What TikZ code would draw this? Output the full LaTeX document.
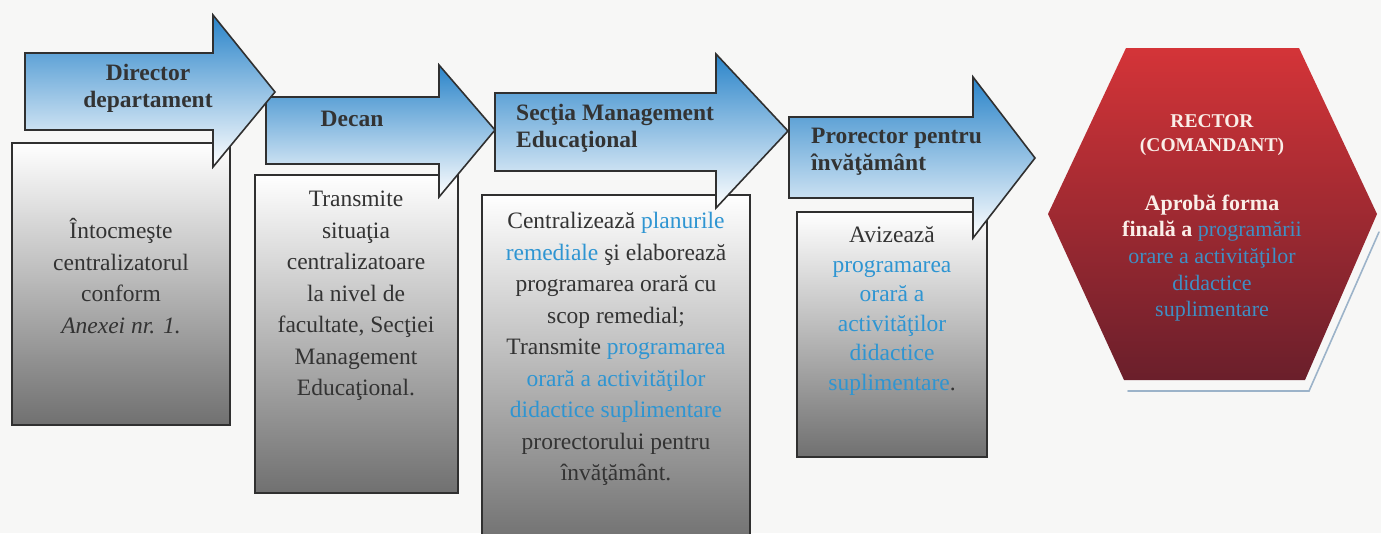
\documentclass[tikz,border=0pt]{standalone}
\usepackage{fontspec}
\setmainfont{Liberation Serif}
\definecolor{bgc}{HTML}{F7F7F6}
\definecolor{edgec}{HTML}{303030}
\definecolor{txtc}{HTML}{333333}
\definecolor{bluetxt}{HTML}{2E95D2}
\definecolor{arrtop}{HTML}{2A84C9}
\definecolor{arrmid}{HTML}{9CC4E8}
\definecolor{boxmid}{HTML}{CDCDCD}
\definecolor{boxbot}{HTML}{707070}
\definecolor{hextop}{HTML}{D43438}
\definecolor{hexmid}{HTML}{C42C34}
\definecolor{hexbot}{HTML}{6A1F2B}
\definecolor{hextxt}{HTML}{FAEEE8}
\definecolor{hexblue}{HTML}{3F8FC4}
\definecolor{shadowc}{HTML}{7E9DBA}
\begin{document}
\begin{tikzpicture}[x=1pt,y=-1pt,
  boxst/.style={draw=edgec, line width=1.6pt, top color=white, middle color=boxmid, bottom color=boxbot},
  arrst/.style={draw=edgec, line width=1.6pt, top color=arrtop, middle color=arrmid, bottom color=white},
  bodytxt/.style={text=txtc, align=center, inner sep=0pt, font=\fontsize{23.5}{31.5}\selectfont},
  headtxt/.style={text=txtc, inner sep=0pt, font=\fontsize{23.5}{27}\selectfont\bfseries}]
\useasboundingbox (0,0) rectangle (1381,533);
\fill[bgc] (0,0) rectangle (1381,533);
\begin{scope}
\clip (0,0) rectangle (1381,533);
% boxes
\path[boxst] (12,143) rectangle (230,425);
\path[boxst] (255,175) rectangle (458,493);
\path[boxst] (482,195) rectangle (750,545);
\path[boxst] (797,212) rectangle (987,457);
% arrows (right to left so left ones lie on top)
\path[arrst] (789,117) -- (973,117) -- (973,77) -- (1035,158) -- (973,238) -- (973,198) -- (789,198) -- cycle;
\path[arrst] (495,93) -- (716,93) -- (716,54) -- (788,131) -- (716,208) -- (716,171) -- (495,171) -- cycle;
\path[arrst] (266,97) -- (439,97) -- (439,65) -- (495,130) -- (439,197) -- (439,164) -- (266,164) -- cycle;
\path[arrst] (25,53) -- (213,53) -- (213,15) -- (275,92) -- (213,167) -- (213,130) -- (25,130) -- cycle;
% hexagon shadow and hexagon
\draw[shadowc, line width=1.6pt, line cap=round, opacity=0.75] (1379,232) -- (1309,391) -- (1128,391);
\shade[top color=hextop, middle color=hexmid, bottom color=hexbot]
  (1126,48) -- (1299,48) -- (1377,214) -- (1305,380) -- (1124,380) -- (1048,214) -- cycle;
\end{scope}
% arrow labels
\node[headtxt, align=center] (director) at (148,88) {Director\\departament};
\node[headtxt] (decan) at (352,119) {Decan};
\node[headtxt, align=left, anchor=west] (sectia) at (516,128) {Secţia Management\\Educaţional};
\node[headtxt, align=left, anchor=west] (prorector) at (811,152) {Prorector pentru\\învăţământ};
% box texts
\node[bodytxt] (t1) at (121,276) {Întocmeşte\\centralizatorul\\conform\\\textit{Anexei nr. 1.}};
\node[bodytxt] (t2) at (356,296) {Transmite\\situaţia\\centralizatoare\\la nivel de\\facultate, Secţiei\\Management\\Educaţional.};
\node[bodytxt] (t3) at (616,349) {Centralizează \textcolor{bluetxt}{planurile}\\\textcolor{bluetxt}{remediale} şi elaborează\\programarea orară cu\\scop remedial;\\Transmite \textcolor{bluetxt}{programarea}\\\textcolor{bluetxt}{orară a activităţilor}\\\textcolor{bluetxt}{didactice suplimentare}\\prorectorului pentru\\învăţământ.};
\node[bodytxt, font=\fontsize{23.5}{29.5}\selectfont] (t4) at (892,311) {Avizează\\\textcolor{bluetxt}{programarea}\\\textcolor{bluetxt}{orară a}\\\textcolor{bluetxt}{activităţilor}\\\textcolor{bluetxt}{didactice}\\\textcolor{bluetxt}{suplimentare}.};
% hexagon texts
\node[text=hextxt, align=center, inner sep=0pt, font=\fontsize{19.5}{23.5}\selectfont\bfseries] (rector) at (1212,135) {RECTOR\\(COMANDANT)};
\node[text=hextxt, align=center, inner sep=0pt, font=\fontsize{22}{26.7}\selectfont] (aproba) at (1212,258) {\textbf{Aprobă forma}\\\textbf{finală a} \textcolor{hexblue}{programării}\\\textcolor{hexblue}{orare a activităţilor}\\\textcolor{hexblue}{didactice}\\\textcolor{hexblue}{suplimentare}};
\end{tikzpicture}
\end{document}
